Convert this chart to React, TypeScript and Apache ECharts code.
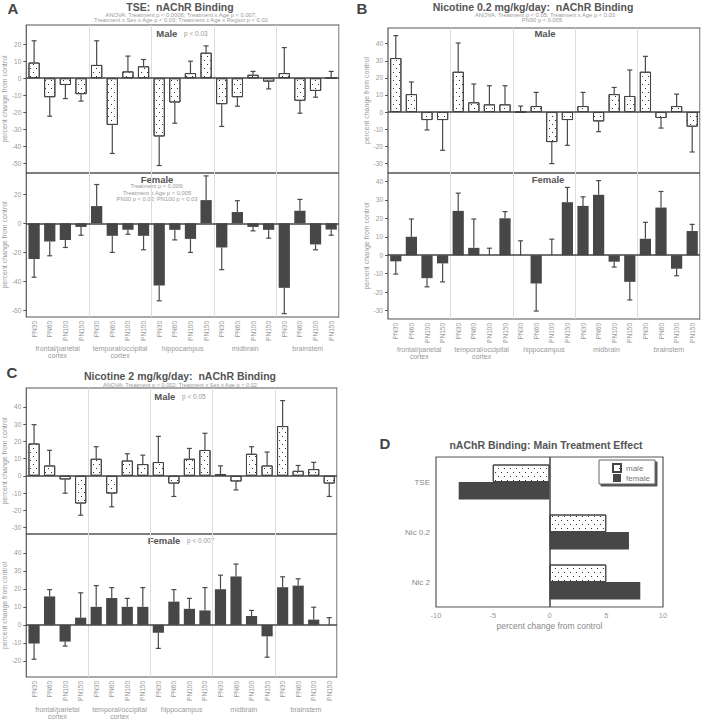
import React, { useEffect, useRef } from 'react';
import * as echarts from 'echarts';

// ---------- data ----------
const ages = ['PN30', 'PN60', 'PN100', 'PN150'];
const regions = ['frontal/parietal\ncortex', 'temporal/occipital\ncortex', 'hippocampus', 'midbrain', 'brainstem'];
const categories = regions.flatMap(() => ages);

// Panel A: TSE
const tseMale = [9.2, -11.2, -4, -9.4, 7.8, -27.5, 4, 7, -34.3, -14.3, 3, 15, -15.3, -11.2, 2, -2, 3, -13.3, -7.5, 0];
const tseMaleSem = [12.8, 11.2, 8, 4.1, 14.2, 16.8, 9, 4, 17.1, 12.2, 7, 4, 13.1, 5.3, 2, 4.3, 15, 7.3, 3.7, 4];
const tseFemale = [-24.5, -12.5, -11.4, -2.5, 11.8, -8.6, -4.5, -8.6, -42.7, -4.5, -10.7, 15.9, -16.6, 7.7, -2.5, -4.5, -44.3, 8.6, -14.5, -4.3];
const tseFemaleSem = [12.5, 9.8, 5.2, 5.7, 14.8, 11.4, 3, 9.6, 10.5, 6.9, 9.3, 16.6, 15.2, 7.8, 2.7, 5.7, 17.7, 7.8, 3.7, 3.9];

// Panel B: Nicotine 0.2 mg/kg/day
const nic02Male = [31.6, 10.5, -4.7, -4.7, 23.6, 5.7, 4.5, 4.5, 0, 3.5, -17.6, -4.7, 3.5, -5.5, 10.5, 9.4, 23.6, -3.5, 3.5, -8.6];
const nic02MaleSem = [13.1, 7.1, 5.8, 17.7, 16.8, 10.7, 10.9, 10.9, 3.5, 8, 12.6, 14.8, 8, 6, 3.9, 15.2, 9, 5.9, 7, 14.8];
const nic02Female = [-3.3, 10, -12.4, -4.4, 24, 4, 0, 20, 0, -15.3, 0, 28.7, 26.7, 32.7, -3.5, -14.4, 8.9, 25.8, -7.3, 13.1];
const nic02FemaleSem = [6.9, 9.6, 4.7, 10, 9.6, 15.6, 3.8, 3.6, 7.8, 14.9, 8.7, 8, 4.9, 7.7, 2.9, 9.8, 8.9, 8.7, 3.8, 3.6];

// Panel C: Nicotine 2 mg/kg/day
const nic2Male = [18.8, 6, -2.1, -16.1, 9.9, -10.3, 8.9, 6.8, 8, -4.5, 9.9, 15, 1, -3.3, 12.8, 6, 28.9, 2.9, 3.9, -4.5];
const nic2MaleSem = [10.9, 8.8, 8, 6.8, 7, 7.7, 3.9, 5.2, 14.9, 7.5, 6, 9.7, 4.8, 4.9, 4.1, 7.8, 14.8, 3.1, 3.9, 7.5];
const nic2Female = [-10.4, 15.8, -9.3, 4, 10, 14.9, 10, 10, -4.4, 12.9, 8.9, 8, 19.8, 26.9, 4.9, -6.4, 20.9, 21.8, 2.9, 0];
const nic2FemaleSem = [8.7, 3.8, 2.5, 13.8, 11.8, 5.8, 4.7, 10.7, 8.7, 6.7, 5.8, 12.7, 7.8, 6.9, 3.1, 11.6, 5.8, 3.8, 6.9, 4];

// Panel D: main treatment effect
const mainTreatments = ['TSE', 'Nic 0.2', 'Nic 2'];
const mainMale = [-5, 5, 5];
const mainFemale = [-8, 7, 8];

// tick labels
const ticksAMale = [-50, -40, -30, -20, -10, 0, 10, 20];
const ticksAFemale = [-60, -40, -20, 0, 20];
const ticksBMale = [-30, -20, -10, 0, 10, 20, 30, 40];
const ticksBFemale = [-30, -20, -10, 0, 10, 20, 30, 40];
const ticksCMale = [-30, -20, -10, 0, 10, 20, 30, 40];
const ticksCFemale = [-20, -10, 0, 10, 20, 30, 40];
const ticksD = [-10, -5, 0, 5, 10];

// ---------- styling ----------
const FONT = '"Liberation Sans", Arial, Helvetica, sans-serif';
const GRAY = '#999999';
const DARK = '#555555';
const FEMALE_COLOR = '#474747';
const dots = {
  symbol: 'rect',
  symbolSize: 1,
  color: '#333',
  backgroundColor: '#fff',
  dashArrayX: [[1, 5], [0, 3, 1, 2]],
  dashArrayY: [1, 2.5],
  rotation: 0,
};

const errRender = (params: any, api: any) => {
  const i = api.value(0);
  const m = api.value(1);
  const s = api.value(2);
  const end = m >= 0 ? m + s : m - s;
  const a = api.coord([i, m]);
  const b = api.coord([i, end]);
  const st = { stroke: '#4a4a4a', lineWidth: 1.2 };
  return {
    type: 'group',
    children: [
      { type: 'line', shape: { x1: a[0], y1: a[1], x2: b[0], y2: b[1] }, style: st },
      { type: 'line', shape: { x1: b[0] - 2.5, y1: b[1], x2: b[0] + 2.5, y2: b[1] }, style: st },
    ],
  };
};

const zeroLine = (axis: 'x' | 'y') => ({
  silent: true,
  symbol: ['none', 'none'],
  label: { show: false },
  lineStyle: { color: '#444', width: 1.5, type: 'solid' },
  data: [axis === 'y' ? { yAxis: 0 } : { xAxis: 0 }],
});

function buildOption() {
  const grid: any[] = [];
  const xAxis: any[] = [];
  const yAxis: any[] = [];
  const series: any[] = [];

  const gridStyle = { show: true, borderColor: DARK, borderWidth: 1.2, backgroundColor: 'transparent' };

  const addPanel = (
    box: { left: number; width: number; top: number; hMale: number; hFemale: number },
    male: number[], maleSem: number[], female: number[], femaleSem: number[],
    maleRange: [number, number], femaleRange: [number, number],
    maleTicks: number[], femaleTicks: number[], regionOffset: number
  ) => {
    const gm = grid.length;
    grid.push({ ...gridStyle, left: box.left, top: box.top, width: box.width, height: box.hMale });
    const gf = grid.length;
    grid.push({ ...gridStyle, left: box.left, top: box.top + box.hMale, width: box.width, height: box.hFemale });

    const sepLine = {
      show: true,
      interval: (i: number) => i > 0 && i % 4 === 0,
      lineStyle: { color: '#dddddd', width: 1 },
    };
    const baseX = {
      type: 'category',
      data: categories,
      axisLine: { show: false, onZero: false },
      axisTick: { inside: true, length: 3, lineStyle: { color: DARK } },
      axisLabel: { show: false },
    };
    const xm = xAxis.length;
    xAxis.push({ ...baseX, gridIndex: gm, position: 'bottom', splitLine: sepLine });
    const xf = xAxis.length;
    xAxis.push({
      ...baseX, gridIndex: gf, position: 'bottom', splitLine: sepLine,
      axisLabel: { show: true, interval: 0, rotate: 90, fontSize: 6.5, color: GRAY, margin: 4 },
    });
    xAxis.push({ ...baseX, gridIndex: gf, position: 'top', splitLine: { show: false } });
    xAxis.push({
      gridIndex: gf, type: 'category', data: regions, position: 'bottom', offset: regionOffset,
      axisLine: { show: false, onZero: false }, axisTick: { show: false }, splitLine: { show: false },
      axisLabel: { interval: 0, fontSize: 7, lineHeight: 7, color: GRAY, margin: 4 },
    });

    const baseY = (range: [number, number], ticks: number[]) => ({
      type: 'value', min: range[0], max: range[1],
      axisLine: { show: false },
      axisTick: { show: true, inside: false, length: 3, customValues: ticks, lineStyle: { color: DARK } },
      axisLabel: { customValues: ticks, fontSize: 6.5, color: GRAY, margin: 5 },
      splitLine: { show: false },
      name: 'percent change from control', nameLocation: 'middle', nameGap: 12,
      nameTextStyle: { fontSize: 7, color: GRAY },
    });
    const ym = yAxis.length;
    yAxis.push({ ...baseY(maleRange, maleTicks), gridIndex: gm });
    const yf = yAxis.length;
    yAxis.push({ ...baseY(femaleRange, femaleTicks), gridIndex: gf });

    series.push({
      type: 'bar', xAxisIndex: xm, yAxisIndex: ym, data: male, barWidth: '72%',
      itemStyle: { color: '#fff', borderColor: '#444', borderWidth: 1, decal: dots },
      markLine: zeroLine('y'),
    });
    series.push({
      type: 'custom', xAxisIndex: xm, yAxisIndex: ym, renderItem: errRender,
      data: male.map((v, i) => [i, v, maleSem[i]]), z: 3,
    });
    series.push({
      type: 'bar', xAxisIndex: xf, yAxisIndex: yf, data: female, barWidth: '72%',
      itemStyle: { color: FEMALE_COLOR },
      markLine: zeroLine('y'),
    });
    series.push({
      type: 'custom', xAxisIndex: xf, yAxisIndex: yf, renderItem: errRender,
      data: female.map((v, i) => [i, v, femaleSem[i]]), z: 3,
    });
  };

  addPanel({ left: 25, width: 314, top: 25, hMale: 148, hFemale: 144 },
    tseMale, tseMaleSem, tseFemale, tseFemaleSem, [-55.8, 31.3], [-64.3, 34.5], ticksAMale, ticksAFemale, 24);
  addPanel({ left: 388, width: 312, top: 28, hMale: 145, hFemale: 146 },
    nic02Male, nic02MaleSem, nic02Female, nic02FemaleSem, [-35.7, 49.2], [-34.5, 44.5], ticksBMale, ticksBFemale, 23);
  addPanel({ left: 24, width: 313, top: 388, hMale: 146, hFemale: 146 },
    nic2Male, nic2MaleSem, nic2Female, nic2FemaleSem, [-33.8, 51], [-29, 50.5], ticksCMale, ticksCFemale, 25);

  // Panel D
  const gd = grid.length;
  grid.push({ ...gridStyle, left: 436, top: 457, width: 227, height: 150 });
  const xd = xAxis.length;
  xAxis.push({
    gridIndex: gd, type: 'value', min: -10, max: 10, interval: 5,
    axisLine: { show: false, onZero: false },
    axisTick: { inside: true, length: 3, lineStyle: { color: DARK } },
    axisLabel: { fontSize: 7.5, color: GRAY, margin: 4, customValues: ticksD },
    splitLine: { show: false },
    name: 'percent change from control', nameLocation: 'middle', nameGap: 14,
    nameTextStyle: { fontSize: 8.5, color: '#888888' },
  });
  const yd = yAxis.length;
  yAxis.push({
    gridIndex: gd, type: 'category', data: mainTreatments, inverse: true,
    axisLine: { show: false, onZero: false },
    axisTick: { inside: true, length: 3, lineStyle: { color: DARK } },
    axisLabel: { fontSize: 8, color: '#888888', margin: 6 },
  });
  series.push({
    name: 'male', type: 'bar', xAxisIndex: xd, yAxisIndex: yd, data: mainMale,
    barGap: '0%', barCategoryGap: '30%',
    itemStyle: { color: '#fff', borderColor: '#444', borderWidth: 1, decal: dots },
    markLine: zeroLine('x'),
  });
  series.push({
    name: 'female', type: 'bar', xAxisIndex: xd, yAxisIndex: yd, data: mainFemale,
    barGap: '0%', barCategoryGap: '30%',
    itemStyle: { color: FEMALE_COLOR },
  });

  const t = (x: number, y: number, text: string, size: number, fill = GRAY, weight = 'normal') => ({
    type: 'text', x, y, silent: true,
    style: { text, fontSize: size, fontWeight: weight, fill, fontFamily: FONT, align: 'center', verticalAlign: 'middle' },
  });
  const rich = (x: number, y: number, label: string, p: string) => ({
    type: 'text', x, y, silent: true,
    style: {
      text: p ? `{b|${label}}  {s|${p}}` : `{b|${label}}`,
      align: 'center', verticalAlign: 'middle', fontFamily: FONT,
      rich: {
        b: { fontSize: 9.5, fontWeight: 'bold', fill: DARK, color: DARK, fontFamily: FONT },
        s: { fontSize: 6.5, fill: GRAY, color: GRAY, fontFamily: FONT },
      },
    },
  });

  const graphic = [
    t(13, 8, 'A', 15, '#444', 'bold'),
    t(180, 7, 'TSE:  nAChR Binding', 10.5, DARK, 'bold'),
    t(181, 14.7, 'ANOVA: Treatment p < 0.0006; Treatment x Age p < 0.007;', 5.8),
    t(181, 20, 'Treatment x Sex x Age p < 0.03; Treatment x Age x Region p < 0.02', 5.8),
    rich(182, 33, 'Male', 'p < 0.03'),
    t(157, 179, 'Female', 9.5, DARK, 'bold'),
    t(157, 186, 'Treatment p < 0.009;', 5.8),
    t(157, 192.6, 'Treatment x Age p < 0.005', 5.8),
    t(157, 199.2, 'PN30 p < 0.02; PN100 p < 0.03', 5.8),

    t(362, 8, 'B', 15, '#444', 'bold'),
    t(533, 7, 'Nicotine 0.2 mg/kg/day:  nAChR Binding', 10.5, DARK, 'bold'),
    t(545, 15, 'ANOVA: Treatment p < 0.05; Treatment x Age p < 0.03', 5.8),
    t(542, 20.3, 'PN30 p < 0.005', 5.8),
    rich(545, 33, 'Male', ''),
    t(548, 179, 'Female', 9.5, DARK, 'bold'),

    t(12, 372, 'C', 15, '#444', 'bold'),
    t(180, 375.8, 'Nicotine 2 mg/kg/day:  nAChR Binding', 10.5, DARK, 'bold'),
    t(180, 384.6, 'ANOVA: Treatment p < 0.002; Treatment x Sex x Age p < 0.02', 5.6),
    rich(180, 396.7, 'Male', 'p < 0.05'),
    rich(181, 540.7, 'Female', 'p < 0.007'),

    t(385, 443, 'D', 15, '#444', 'bold'),
    t(546, 445, 'nAChR Binding: Main Treatment Effect', 10.5, DARK, 'bold'),
  ];

  return {
    animation: false,
    backgroundColor: '#fff',
    textStyle: { fontFamily: FONT },
    grid, xAxis, yAxis, series, graphic,
    legend: {
      data: ['male', 'female'],
      left: 599, top: 460, orient: 'vertical',
      icon: 'rect', itemWidth: 8, itemHeight: 8, itemGap: 1,
      padding: [3, 5, 2, 13],
      textStyle: { fontSize: 8, color: '#777777', fontFamily: FONT },
      backgroundColor: '#fff', borderColor: '#666', borderWidth: 1,
      shadowColor: '#555', shadowOffsetX: 2, shadowOffsetY: 2, shadowBlur: 0,
    },
  };
}

export default function App() {
  const ref = useRef<HTMLDivElement>(null);
  useEffect(() => {
    if (!ref.current) return;
    const chart = echarts.init(ref.current, undefined, { renderer: 'svg' });
    chart.setOption(buildOption() as any);
    return () => chart.dispose();
  }, []);
  return <div ref={ref} style={{ position: 'absolute', left: 0, top: 0, width: 702, height: 720 }} />;
}
